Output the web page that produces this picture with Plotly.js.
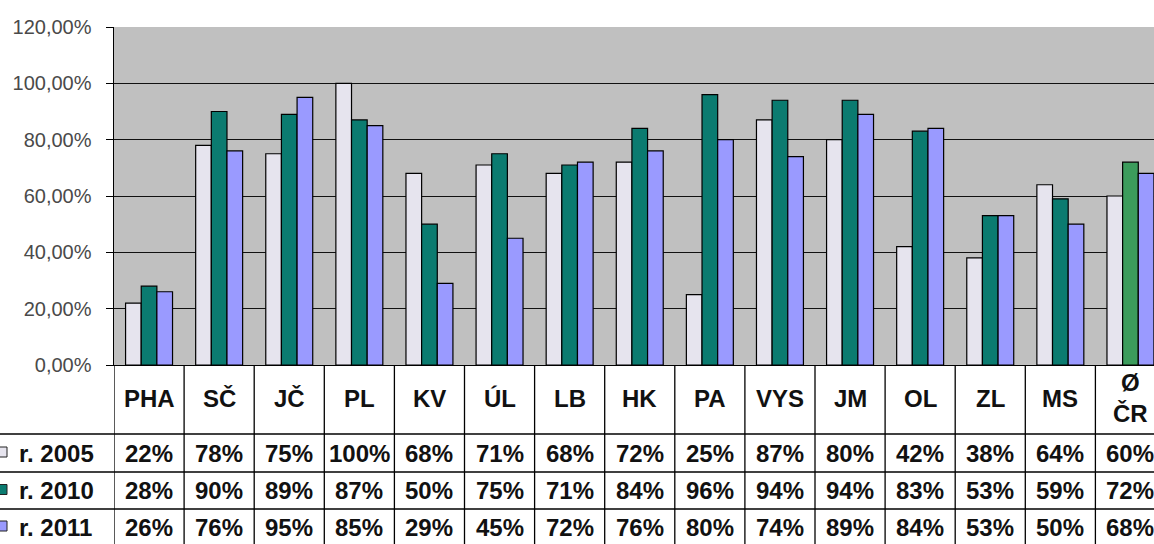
<!DOCTYPE html>
<html>
<head>
<meta charset="utf-8">
<script src="https://cdn.plot.ly/plotly-3.0.1.min.js"></script>
<style>html,body{margin:0;padding:0;background:#fff;}#chart{width:1154px;height:544px;}</style>
</head>
<body>
<div id="chart"></div>
<script>
const categories = ['PHA','SČ','JČ','PL','KV','ÚL','LB','HK','PA','VYS','JM','OL','ZL','MS','Ø<br>ČR'];
const seriesNames = ['r. 2005','r. 2010','r. 2011'];
const v2005 = [22,78,75,100,68,71,68,72,25,87,80,42,38,64,60];
const v2010 = [28,90,89,87,50,75,71,84,96,94,94,83,53,59,72];
const v2011 = [26,76,95,85,29,45,72,76,80,74,89,84,53,50,68];
const yTicks = [0,20,40,60,80,100,120];
const yTickText = yTicks.map(t => t.toFixed(2).replace('.', ',') + '%');

const W = 1154, H = 544, ML = 114, MT = 27;
const PW = W - ML, PH = H - MT;
const px = p => (p - ML) / PW;
const py = p => (H - p) / PH;
const plotBottom = 365;
const domBottom = py(plotBottom);
const catW = 70.1;
const xMax = -0.5 + PW / catW;

const c2005 = '#e6e4ee', c2010 = '#0b7b70', c2010avg = '#3c9c5c', c2011 = '#9a9aff';
const colors2010 = categories.map((c, i) => i === categories.length - 1 ? c2010avg : c2010);

const lineStyle = {color: '#000', width: 1.3};
const traces = [
  {type:'bar', name:seriesNames[0], x:categories, y:v2005, marker:{color:c2005, line:{color:'#000', width:1.2}}},
  {type:'bar', name:seriesNames[1], x:categories, y:v2010, marker:{color:colors2010, line:{color:'#000', width:1.2}}},
  {type:'bar', name:seriesNames[2], x:categories, y:v2011, marker:{color:c2011, line:{color:'#000', width:1.2}}}
];

const rowLines = [434, 472, 509];
const rowCenters = [453, 490.5, 527];
const headerCenter = 398;
const swatchColors = [c2005, c2010, c2011];
const tableFont = {family:'Liberation Sans, Arial, sans-serif', size:24, color:'#111', weight:'bold'};

const shapes = [];
const annotations = [];
for (let i = 0; i <= categories.length; i++) {
  shapes.push({type:'line', xref:'x', yref:'paper', x0:i-0.5, x1:i-0.5, y0:0, y1:domBottom, line:lineStyle, layer:'above'});
}
rowLines.forEach(r => shapes.push({type:'line', xref:'paper', yref:'paper', x0:px(0), x1:1, y0:py(r), y1:py(r), line:lineStyle}));
categories.forEach(c => annotations.push({xref:'x', yref:'paper', x:c, y:py(headerCenter), text:c, showarrow:false,
  font:tableFont, xanchor:'center', yanchor:'middle'}));
[v2005, v2010, v2011].forEach((vals, r) => {
  vals.forEach((v, i) => annotations.push({xref:'x', yref:'paper', x:categories[i], y:py(rowCenters[r]), text:v + '%', showarrow:false,
    font:tableFont, xanchor:'center', yanchor:'middle'}));
  annotations.push({xref:'paper', yref:'paper', x:px(17), y:py(rowCenters[r]), text:seriesNames[r], showarrow:false,
    font:tableFont, xanchor:'left', yanchor:'middle'});
  shapes.push({type:'rect', xref:'paper', yref:'paper', x0:px(-3), x1:px(7), y0:py(rowCenters[r]+4), y1:py(rowCenters[r]-6),
    fillcolor:swatchColors[r], line:{color:'#222', width:1}});
});

const layout = {
  width: W, height: H,
  margin: {l:ML, r:0, t:MT, b:0, pad:0},
  paper_bgcolor: '#fff', plot_bgcolor: '#c0c0c0',
  showlegend: false,
  barmode: 'group', bargap: 0.33, bargroupgap: 0,
  xaxis: {type:'category', range:[-0.5, xMax], showticklabels:false, ticks:'', showgrid:false, zeroline:false,
    showline:true, linecolor:'#000', linewidth:1.3, fixedrange:true},
  yaxis: {domain:[domBottom, 1], range:[0,120], tickmode:'array', tickvals:yTicks, ticktext:yTickText,
    showgrid:true, gridcolor:'#111', gridwidth:1, zeroline:false,
    showline:true, linecolor:'#000', linewidth:1.5, ticks:'outside', ticklen:7, tickcolor:'#000',
    ticklabelstandoff:10,
    tickfont:{family:'Liberation Sans, Arial, sans-serif', size:20, color:'#4a4a4a'}},
  shapes: shapes,
  annotations: annotations
};

Plotly.newPlot('chart', traces, layout, {displayModeBar:false, staticPlot:true});
</script>
</body>
</html>
